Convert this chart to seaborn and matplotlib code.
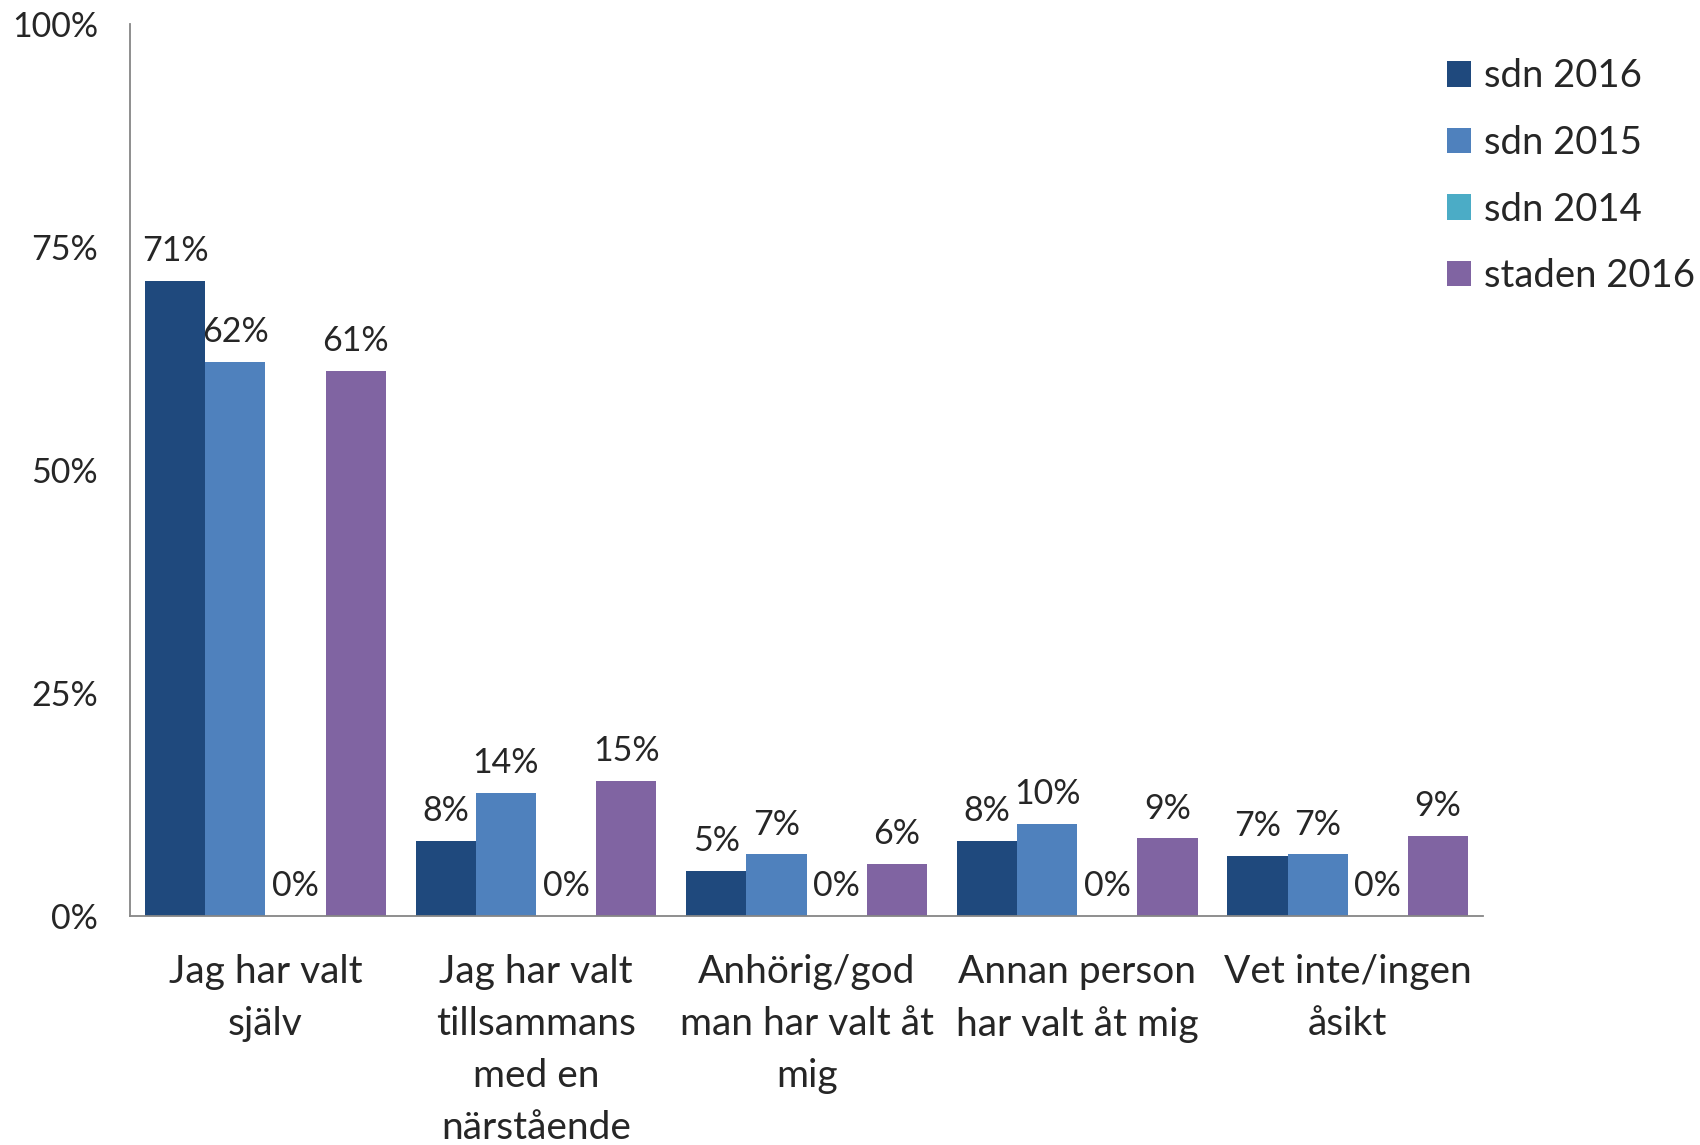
import pandas as pd
import matplotlib
matplotlib.use("Agg")
import matplotlib.pyplot as plt
import seaborn as sb

# data (percent)
categories = ["Jag har valt\nsjälv",
              "Jag har valt\ntillsammans\nmed en\nnärstående",
              "Anhörig/god\nman har valt åt\nmig",
              "Annan person\nhar valt åt mig",
              "Vet inte/ingen\nåsikt"]
series = ["sdn 2016", "sdn 2015", "sdn 2014", "staden 2016"]
sdn_2016 = [71.2, 8.4, 5.1, 8.4, 6.7]
sdn_2015 = [62.1, 13.8, 6.9, 10.3, 6.9]
sdn_2014 = [0, 0, 0, 0, 0]
staden_2016 = [61.1, 15.1, 5.8, 8.7, 9.0]
colors = ["#1F497D", "#4F81BD", "#4BACC6", "#8064A2"]

rows = []
for name, vals in zip(series, [sdn_2016, sdn_2015, sdn_2014, staden_2016]):
    for c, v in zip(categories, vals):
        rows.append({"Kategori": c, "Serie": name, "Andel": v})
df = pd.DataFrame(rows)

sb.set_style("white")
plt.rcParams["font.family"] = ["Lato", "DejaVu Sans"]

fig = plt.figure(figsize=(17, 11.45), dpi=100)
ax = fig.add_axes([0.0765, 0.2, 0.7959, 0.779])

sb.barplot(data=df, x="Kategori", y="Andel", hue="Serie", hue_order=series,
           palette=colors, width=0.89, linewidth=0, saturation=1, ax=ax)

for cont, vals in zip(ax.containers, [sdn_2016, sdn_2015, sdn_2014, staden_2016]):
    ax.bar_label(cont, labels=[f"{v:.0f}%" for v in vals], padding=10, fontsize=24.5)

ax.set_ylim(0, 100)
ax.set_xlim(-0.5, len(categories) - 0.5)
ax.set_yticks([0, 25, 50, 75, 100])
ax.set_yticklabels(["0%", "25%", "50%", "75%", "100%"], fontsize=24.5)
ax.set_xticks([i - 0.5 for i in range(len(categories) + 1)])
ax.set_xticklabels([])
ax.set_xticks(range(len(categories)), categories, minor=True, fontsize=28, linespacing=1.56)
ax.tick_params(axis="x", which="major", direction="out", length=8, color="#868686", width=1.3)
ax.tick_params(axis="x", which="minor", length=0, pad=27)
ax.tick_params(axis="y", direction="out", length=7, color="#868686", width=1.3, pad=16)
ax.set_xlabel("")
ax.set_ylabel("")
for s in ["top", "right"]:
    ax.spines[s].set_visible(False)
for s in ["left", "bottom"]:
    ax.spines[s].set_color("#868686")
    ax.spines[s].set_linewidth(1.3)

handles, labels = ax.get_legend_handles_labels()
ax.get_legend().remove()
fig.legend(handles, labels, loc="upper left", bbox_to_anchor=(0.851, 0.949),
           frameon=False, fontsize=27.5, handlelength=0.64, handleheight=0.64,
           handletextpad=0.33, labelspacing=0.8, borderpad=0, borderaxespad=0)

fig.savefig("out.png", dpi=100)
